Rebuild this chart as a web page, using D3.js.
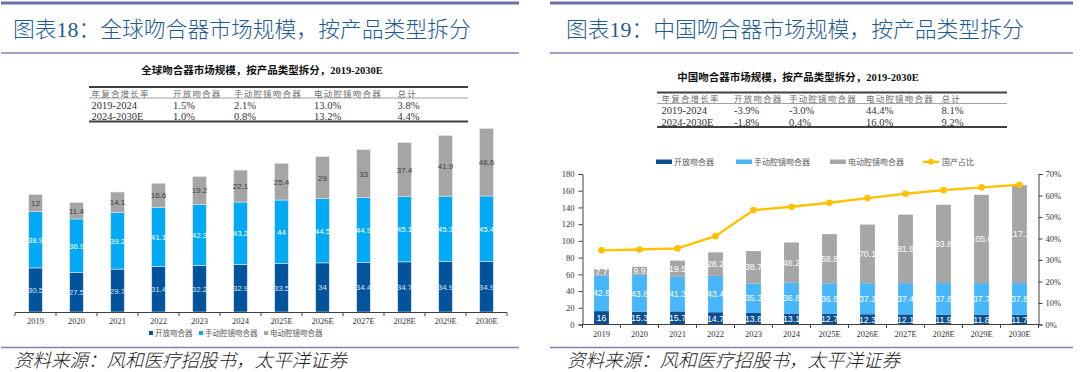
<!DOCTYPE html>
<html>
<head>
<meta charset="utf-8">
<script src="https://cdn.jsdelivr.net/npm/d3@7"></script>
<style>
  body { margin: 0; background: #fff; }
  svg { display: block; }
  .serif { font-family: "Liberation Serif", "Noto Sans CJK SC", serif; }
  .cjk { font-family: "Liberation Serif", "Noto Sans CJK SC", sans-serif; }
</style>
</head>
<body>
<div class="chart"></div>
<script>
// categories
var years = ['2019', '2020', '2021', '2022', '2023', '2024', '2025E', '2026E', '2027E', '2028E', '2029E', '2030E'];
var seriesNames = ['开放吻合器', '手动腔镜吻合器', '电动腔镜吻合器'];
var shareName = '国产占比';

// global market (left chart)
var globalOpen = [30.5, 27.5, 29.7, 31.4, 32.2, 32.9, 33.5, 34, 34.4, 34.7, 34.9, 34.9];
var globalManual = [38.9, 36.9, 39.2, 41.1, 42.3, 43.2, 44, 44.5, 44.9, 45.1, 45.3, 45.4];
var globalPowered = [12, 11.4, 14.1, 16.6, 19.2, 22.1, 25.4, 29, 33, 37.4, 41.9, 46.6];

// china market (right chart)
var chinaOpen = [16, 15.3, 15.7, 14.7, 13.8, 13.1, 12.7, 12.3, 12.1, 11.9, 11.8, 11.7];
var chinaManual = [42.8, 43.8, 41.3, 43.4, 35.3, 36.8, 36.6, 37.1, 37.4, 37.6, 37.7, 37.8];
var chinaPowered = [7.7, 9.9, 19.5, 28.2, 38.7, 48.2, 58.8, 70.1, 81.9, 93.8, 105.6, 117.2];
var chinaShare = [0.345, 0.349, 0.354, 0.411, 0.532, 0.548, 0.566, 0.588, 0.608, 0.625, 0.638, 0.650];

// axis ticks (right chart)
var valueTicks = [0, 20, 40, 60, 80, 100, 120, 140, 160, 180];
var shareTicks = [0, 0.1, 0.2, 0.3, 0.4, 0.5, 0.6, 0.7];

// CAGR tables
var cagrHeader = ['年复合增长率', '开放吻合器', '手动腔镜吻合器', '电动腔镜吻合器', '总计'];
var globalCagr = [
  ['2019-2024', '1.5%', '2.1%', '13.0%', '3.8%'],
  ['2024-2030E', '1.0%', '0.8%', '13.2%', '4.4%']
];
var chinaCagr = [
  ['2019-2024', '-3.9%', '-3.0%', '44.4%', '8.1%'],
  ['2024-2030E', '-1.8%', '0.4%', '16.0%', '9.2%']
];

var titles = ['图表18：全球吻合器市场规模，按产品类型拆分', '图表19：中国吻合器市场规模，按产品类型拆分'];
var subtitles = ['全球吻合器市场规模，按产品类型拆分，2019-2030E', '中国吻合器市场规模，按产品类型拆分，2019-2030E'];
var sourceText = '资料来源：风和医疗招股书，太平洋证券';

var svg = d3.select('.chart')
  .append('svg')
    .attr('width', 1080)
    .attr('height', 372);

// frame: rules, titles, sources
function frame(x0, x1, titleX, title) {
  svg.append('line').attr('x1', x0).attr('x2', x1).attr('y1', 3).attr('y2', 3)
    .attr('stroke', '#6e6fa9').attr('stroke-width', 3);
  svg.append('line').attr('x1', x0).attr('x2', x1).attr('y1', 53).attr('y2', 53)
    .attr('stroke', '#7f80b6').attr('stroke-width', 1.6);
  svg.append('line').attr('x1', x0).attr('x2', x1).attr('y1', 347.5).attr('y2', 347.5)
    .attr('stroke', '#7f80b6').attr('stroke-width', 1.6);
  svg.append('text').attr('class', 'cjk')
    .attr('x', titleX).attr('y', 37)
    .attr('fill', '#1e5b94')
    .style('font-size', '21.8px').style('font-weight', 300)
    .text(title);
  svg.append('text').attr('class', 'cjk')
    .attr('x', titleX + 1).attr('y', 367)
    .attr('fill', '#1a1a1a')
    .style('font-size', '18.5px').style('font-style', 'italic').style('font-weight', 300)
    .text(sourceText);
}
frame(1, 519, 13, titles[0]);
frame(550, 1073, 566, titles[1]);

// subtitle + CAGR table
function cagrTable(cx, subY, tx0, tx1, topY, cols, rows, subtitle) {
  svg.append('text').attr('class', 'serif')
    .attr('x', cx).attr('y', subY + 3.5)
    .attr('text-anchor', 'middle')
    .attr('fill', '#111')
    .style('font-size', '10.5px').style('font-weight', 'bold')
    .text(subtitle);
  svg.append('line').attr('x1', tx0).attr('x2', tx1).attr('y1', topY).attr('y2', topY)
    .attr('stroke', '#404040').attr('stroke-width', 2);
  svg.append('line').attr('x1', tx0).attr('x2', tx1).attr('y1', topY + 11).attr('y2', topY + 11)
    .attr('stroke', '#8c8c8c').attr('stroke-width', 0.8);
  svg.append('line').attr('x1', tx0).attr('x2', tx1).attr('y1', topY + 34.5).attr('y2', topY + 34.5)
    .attr('stroke', '#404040').attr('stroke-width', 2);
  cagrHeader.forEach(function(h, i) {
    svg.append('text').attr('class', 'cjk')
      .attr('x', cols[i]).attr('y', topY + 9.5)
      .attr('fill', '#6b6b6b')
      .style('font-size', '8.5px').style('letter-spacing', '1.2px')
      .text(h);
  });
  rows.forEach(function(r, ri) {
    r.forEach(function(v, i) {
      svg.append('text').attr('class', 'serif')
        .attr('x', cols[i]).attr('y', topY + 21.5 + ri * 11.7)
        .attr('fill', '#333')
        .style('font-size', '10.5px')
        .text(v);
    });
  });
}
cagrTable(262, 70, 89, 468, 87, [91.5, 173, 234, 314, 397.5], globalCagr, subtitles[0]);
cagrTable(798, 77, 657, 1007, 92.5, [661.5, 734, 789, 866, 941.5], chinaCagr, subtitles[1]);

// ---------- left chart: global stacked bars ----------
var gx = d3.scaleBand().domain(years).range([15, 507]).paddingInner(0.67).paddingOuter(0.335);
var gy = d3.scaleLinear().domain([0, 140]).range([312, 109.7]);
var globalRows = years.map(function(y, i) {
  return { year: y, 0: globalOpen[i], 1: globalManual[i], 2: globalPowered[i] };
});
var gStack = d3.stack().keys([0, 1, 2])(globalRows);
var gColors = ['#00549c', '#00aaf5', '#a5a5a5'];
var gLabelColors = ['#d6e4f5', '#ffffff', '#404040'];

var gLayers = svg.append('g').selectAll('g')
  .data(gStack)
  .enter()
    .append('g')
    .attr('fill', (d, i) => gColors[i]);

gLayers.selectAll('rect')
  .data(d => d)
  .enter()
    .append('rect')
    .attr('x', d => gx(d.data.year))
    .attr('y', d => gy(d[1]))
    .attr('width', gx.bandwidth())
    .attr('height', d => gy(d[0]) - gy(d[1]))
    .attr('stroke', '#e3e3e3')
    .attr('stroke-width', 0.6);

gStack.forEach(function(layer, li) {
  svg.append('g').selectAll('text')
    .data(layer)
    .enter()
      .append('text')
      .attr('x', d => gx(d.data.year) + gx.bandwidth() / 2)
      .attr('y', d => gy((d[0] + d[1]) / 2) + 3)
      .attr('text-anchor', 'middle')
      .attr('fill', gLabelColors[li])
      .style('font-family', '"Liberation Sans", Arial, sans-serif')
      .style('font-size', '8px')
      .text(d => d.data[li]);
});

// x axis with ticks between categories
svg.append('line').attr('x1', 15).attr('x2', 507).attr('y1', 312.5).attr('y2', 312.5)
  .attr('stroke', '#404040').attr('stroke-width', 1);
svg.append('g').selectAll('line')
  .data(d3.range(years.length + 1))
  .enter()
    .append('line')
    .attr('x1', i => 15 + i * gx.step()).attr('x2', i => 15 + i * gx.step())
    .attr('y1', 312.5).attr('y2', 316)
    .attr('stroke', '#404040');
svg.append('g').selectAll('text')
  .data(years)
  .enter()
    .append('text')
    .attr('class', 'serif')
    .attr('x', d => gx(d) + gx.bandwidth() / 2)
    .attr('y', 323.5)
    .attr('text-anchor', 'middle')
    .attr('fill', '#333')
    .style('font-size', '8.5px')
    .text(d => d);

// legend (left)
var gLegendX = [149, 199, 264];
seriesNames.forEach(function(n, i) {
  svg.append('rect').attr('x', gLegendX[i]).attr('y', 331).attr('width', 4).attr('height', 4)
    .attr('fill', gColors[i]);
  svg.append('text').attr('class', 'cjk')
    .attr('x', gLegendX[i] + 6).attr('y', 336)
    .attr('fill', '#595959')
    .style('font-size', '7.5px')
    .text(n);
});

// ---------- right chart: china stacked bars + share line ----------
var cx = d3.scaleBand().domain(years).range([582.5, 1038.5]).paddingInner(0.61).paddingOuter(0.305);
var cy = d3.scaleLinear().domain([0, 180]).range([324.5, 174]);
var cy2 = d3.scaleLinear().domain([0, 0.7]).range([324.5, 174]);
var chinaRows = years.map(function(y, i) {
  return { year: y, 0: chinaOpen[i], 1: chinaManual[i], 2: chinaPowered[i] };
});
var cStack = d3.stack().keys([0, 1, 2])(chinaRows);
var cColors = ['#0b4f8f', '#48b6fb', '#a6a6a6'];
var lineColor = '#ffc000';

svg.append('g').selectAll('g')
  .data(cStack)
  .enter()
    .append('g')
    .attr('fill', (d, i) => cColors[i])
  .selectAll('rect')
  .data(d => d)
  .enter()
    .append('rect')
    .attr('x', d => cx(d.data.year))
    .attr('y', d => cy(d[1]))
    .attr('width', cx.bandwidth())
    .attr('height', d => cy(d[0]) - cy(d[1]));

cStack.forEach(function(layer, li) {
  svg.append('g').selectAll('text')
    .data(layer)
    .enter()
      .append('text')
      .attr('x', d => cx(d.data.year) + cx.bandwidth() / 2)
      .attr('y', d => cy((d[0] + d[1]) / 2) + 3.2)
      .attr('text-anchor', 'middle')
      .attr('fill', '#fff')
      .style('font-family', '"Liberation Sans", Arial, sans-serif')
      .style('font-size', '8.8px')
      .text(d => d.data[li]);
});

// share line
var shareLine = d3.line()
  .x((d, i) => cx(years[i]) + cx.bandwidth() / 2)
  .y(d => cy2(d));
svg.append('path')
  .datum(chinaShare)
  .attr('d', shareLine)
  .attr('fill', 'none')
  .attr('stroke', lineColor)
  .attr('stroke-width', 2.4);
svg.append('g').selectAll('circle')
  .data(chinaShare)
  .enter()
    .append('circle')
    .attr('cx', (d, i) => cx(years[i]) + cx.bandwidth() / 2)
    .attr('cy', d => cy2(d))
    .attr('r', 3.3)
    .attr('fill', lineColor);

// axes (right chart)
var leftAxis = svg.append('g')
  .attr('transform', 'translate(582.5,0)')
  .call(d3.axisLeft(cy).tickValues(valueTicks).tickSize(4).tickPadding(4));
var rightAxis = svg.append('g')
  .attr('transform', 'translate(1038.5,0)')
  .call(d3.axisRight(cy2).tickValues(shareTicks).tickSize(4).tickPadding(3).tickFormat(d3.format('.0%')));
[leftAxis, rightAxis].forEach(function(a) {
  a.select('.domain').attr('stroke', '#404040');
  a.selectAll('.tick line').attr('stroke', '#404040');
  a.selectAll('.tick text')
    .attr('fill', '#333')
    .style('font-family', '"Liberation Serif", serif')
    .style('font-size', '8.5px');
});

svg.append('line').attr('x1', 582.5).attr('x2', 1038.5).attr('y1', 324.5).attr('y2', 324.5)
  .attr('stroke', '#404040').attr('stroke-width', 1);
svg.append('g').selectAll('line')
  .data(d3.range(years.length + 1))
  .enter()
    .append('line')
    .attr('x1', i => 582.5 + i * cx.step()).attr('x2', i => 582.5 + i * cx.step())
    .attr('y1', 324.5).attr('y2', 328)
    .attr('stroke', '#404040');
svg.append('g').selectAll('text')
  .data(years)
  .enter()
    .append('text')
    .attr('class', 'serif')
    .attr('x', d => cx(d) + cx.bandwidth() / 2)
    .attr('y', 336.5)
    .attr('text-anchor', 'middle')
    .attr('fill', '#333')
    .style('font-size', '8.5px')
    .text(d => d);

// legend (right)
var cLegendX = [656, 736, 830];
seriesNames.forEach(function(n, i) {
  svg.append('rect').attr('x', cLegendX[i]).attr('y', 159.5).attr('width', 16).attr('height', 4.5)
    .attr('fill', cColors[i]);
  svg.append('text').attr('class', 'cjk')
    .attr('x', cLegendX[i] + 18).attr('y', 164.5)
    .attr('fill', '#595959')
    .style('font-size', '8px')
    .text(n);
});
svg.append('line').attr('x1', 923).attr('x2', 939).attr('y1', 161.8).attr('y2', 161.8)
  .attr('stroke', lineColor).attr('stroke-width', 2.4);
svg.append('circle').attr('cx', 931).attr('cy', 161.8).attr('r', 3).attr('fill', lineColor);
svg.append('text').attr('class', 'cjk')
  .attr('x', 942).attr('y', 164.5)
  .attr('fill', '#595959')
  .style('font-size', '8px')
  .text(shareName);
</script>
</body>
</html>
